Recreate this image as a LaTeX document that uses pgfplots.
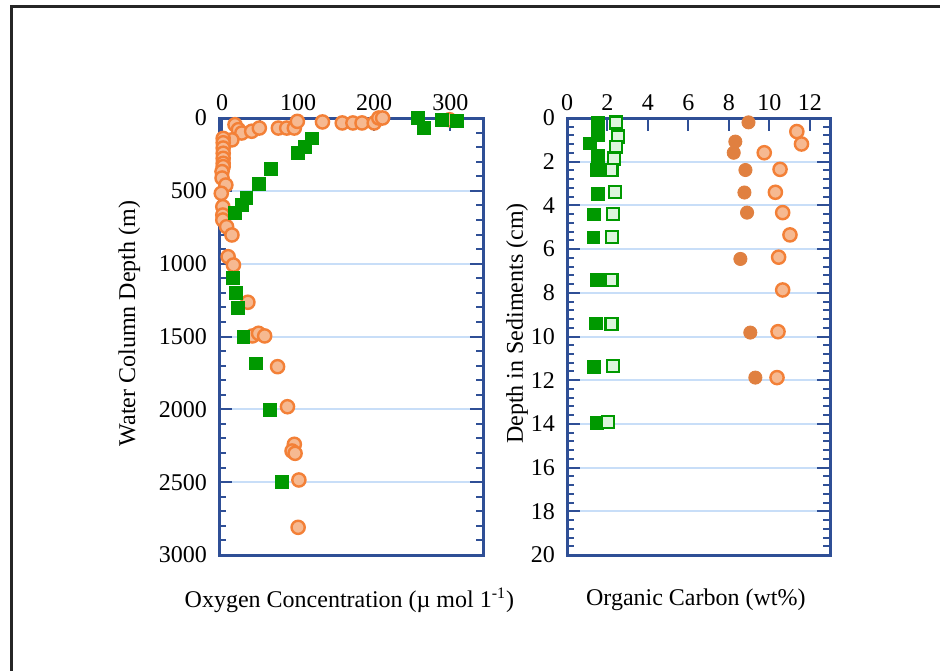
\documentclass[border=0pt]{standalone}
\usepackage{fontspec}
\setmainfont{Liberation Serif}
\usepackage{pgfplots}
\pgfplotsset{compat=1.18}
\definecolor{axblue}{RGB}{47,79,150}
\definecolor{gridblue}{RGB}{200,222,248}
\definecolor{mgreen}{RGB}{0,153,0}
\definecolor{oedge}{RGB}{243,128,55}
\definecolor{ofill}{RGB}{246,185,145}
\definecolor{ofull}{RGB}{224,128,64}
\definecolor{gfill}{RGB}{222,245,222}
\pgfplotsset{
  myaxis/.style={
    scale only axis, anchor=south west,
    y dir=reverse,
    axis line style={axblue, line width=1.5pt},
    every tick/.style={axblue, line width=1pt},
    major tick length=6.5pt, minor tick length=3.5pt,
    tick align=inside,
    xtick pos=right, xticklabel pos=right,
    ytick pos=both, yticklabel pos=left,
    ymajorgrids, grid style={gridblue, line width=1pt},
    tick label style={font=\fontsize{12}{14}\selectfont},
    yticklabel style={xshift=-2.5pt},
    label style={font=\fontsize{12}{14}\selectfont},
    /pgf/number format/assume math mode=true,
    /pgf/number format/1000 sep={},
    clip=false,
    width=132pt, height=218.5pt,
  },
  gsq/.style={only marks, mark=square*, mark size=3.2pt, mark options={draw=mgreen, fill=mgreen}},
  gopen/.style={only marks, mark=square*, mark size=3pt, mark options={draw=mgreen, fill=gfill, line width=1.1pt}},
  ocirc/.style={only marks, mark=*, mark size=3.3pt, mark options={draw=oedge, fill=ofill, line width=1.2pt}},
  ofullc/.style={only marks, mark=*, mark size=3.3pt, mark options={draw=ofull, fill=ofull}},
}
\begin{document}
\begin{tikzpicture}
\useasboundingbox (0,0) rectangle (470pt,335pt);
\fill[white] (0,0) rectangle (470pt,335pt);
\draw[line width=1.3pt, black!85] (5.75pt,-5pt) -- (5.75pt,331.6pt) -- (480pt,331.6pt);

% Left panel: oxygen
\begin{axis}[myaxis,
  at={(109.5pt,57.5pt)},
  xmin=-4, xmax=343, ymin=0, ymax=3000,
  xtick={0,100,200,300}, minor x tick num=1,
  ytick={0,500,1000,1500,2000,2500,3000}, minor y tick num=4,
  xlabel={Oxygen Concentration (µ mol 1\textsuperscript{-1})},
  ylabel={Water Column Depth (m)},
  xlabel style={at={(axis description cs:0.494,-0.103)}, anchor=center},
  ylabel style={at={(axis description cs:-0.34,0.53)}, rotate=0, anchor=center},
]
\addplot[ocirc] table {
x y
17 46
21.5 80
26 103
13 150
39 91
49 69
74 69
85 69
95 69
99 23
132 27
158 34
172 34
184 34
200 34
206 0
211 0
299 12
1.5 140
1.5 170
1.5 206
1.5 242
1.5 277
1.5 311
1.5 334
0 368
0 412
5 460
-1 517
1 609
1 666
1 700
6 746
13 803
8 952
15 1009
34 1265
40 1496
48 1478
56 1496
73 1707
86 1982
95 2240
92 2286
96 2302
101 2485
100 2810
};
\addplot[gsq] table {
x y
257 0
265 69
289 12
309 18
118 140
109 197
100 238
64 350
48 455
32 551
26 597
17 650
14 1096
18 1199
21 1306
28 1501
45 1684
63 2004
79 2497
};
\end{axis}

% Right panel: organic carbon
\begin{axis}[myaxis,
  at={(283.5pt,57.5pt)}, width=131.5pt,
  xmin=0, xmax=13, ymin=0, ymax=20,
  xtick={0,2,4,6,8,10,12},
  ytick={0,2,4,6,8,10,12,14,16,18,20}, minor y tick num=4,
  xlabel={Organic Carbon (wt\%)},
  ylabel={Depth in Sediments (cm)},
  xlabel style={at={(axis description cs:0.49,-0.103)}, anchor=center},
  ylabel style={at={(axis description cs:-0.19,0.53)}, anchor=center},
]
\addplot[gsq] table {
x y
1.54 0.24
1.54 0.78
1.13 1.16
1.51 1.72
1.46 2.38
1.51 3.48
1.33 4.41
1.30 5.46
1.46 7.41
1.43 9.40
1.33 11.38
1.49 13.97
};
\addplot[gopen] table {
x y
2.41 0.21
2.53 0.85
2.41 1.31
2.32 1.85
2.20 2.38
2.36 3.40
2.28 4.39
2.23 5.46
2.20 7.41
2.20 9.43
2.28 11.35
2.03 13.93
};
\addplot[ofullc] table {
x y
8.97 0.20
8.32 1.08
8.24 1.59
8.82 2.38
8.77 3.41
8.90 4.33
8.57 6.45
9.06 9.82
9.31 11.88
};
\addplot[ocirc] table {
x y
11.36 0.62
11.59 1.19
9.75 1.59
10.53 2.35
10.30 3.40
10.66 4.33
11.02 5.35
10.46 6.37
10.66 7.87
10.43 9.78
10.38 11.88
};
\end{axis}
\end{tikzpicture}
\end{document}
